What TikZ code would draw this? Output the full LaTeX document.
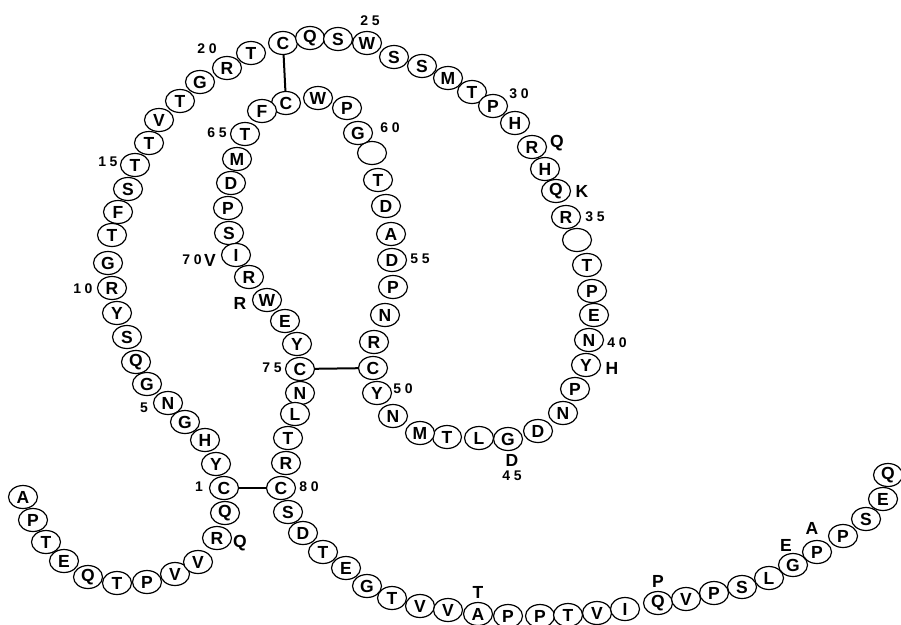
\documentclass[tikz,border=0pt]{standalone}
\usepackage{fontspec}
\setmainfont{Liberation Sans}
\usetikzlibrary{shapes.geometric}
\tikzset{
  res/.style={ellipse, draw, fill=white, line width=1.2pt, minimum width=29pt, minimum height=23pt, inner sep=0pt, font=\fontsize{17.5}{17.5}\selectfont\bfseries},
  num/.style={inner sep=0pt, font=\fontsize{14}{14}\selectfont\bfseries},
  var/.style={inner sep=0pt, font=\fontsize{17.5}{17.5}\selectfont\bfseries},
  bond/.style={line width=2pt}
}
\newcommand{\dg}[2]{#1\hspace{3.5pt}#2}
\begin{document}
\begin{tikzpicture}[x=1pt,y=-1pt]
\useasboundingbox (0,0) rectangle (901,624);
\clip (0,0) rectangle (901,624);
\foreach \px/\py/\t [count=\i] in {
23/497/A, 33/520/P, 46/542/T, 64/561/E, 88/577/Q, 117/583/T, 147/582/P, 175/574/V, 198/562/V, 217/538/R, 225/513/Q,
224/488/C, 216/464/Y, 205/440/H, 185/422/G, 168/403/N, 147/384/G, 136/362/Q, 127/337/S, 117/313/Y, 112/288/R,
108/263/G, 112/235/T, 118/212/F, 128/189/S, 135/165/T, 149/143/T, 159/120/V, 180/101/T, 200/82/G, 227/68/R,
251/53/T, 283/43/C, 310/38/Q, 338/39/S, 367/43/W, 394/57/S, 422/66/S, 448/78/M, 472/92/T, 493/106/P,
515/123/H, 532/147/R, 545/169/H, 556/191/Q, 566/217/R, 577/240/{}, 587/265/T, 592/291/P, 594/315/E, 589/340/N,
586/365/Y, 575/389/P, 563/413/N, 538/431/D, 508/439/G, 479/438/L, 447/437/T, 420/433/M, 393/416/N, 377/393/Y,
373/368/C, 374/342/R, 385/315/N, 393/287/P, 392/260/D, 391/234/A, 386/206/D, 378/180/T, 372/153/{}, 358/133/G,
347/108/P, 318/98/W, 286/103/C, 262/111/F, 245/134/T, 237/159/M, 231/183/D, 228/208/P, 229/233/S, 236/255/I,
249/277/R, 267/300/W, 285/321/E, 297/344/Y, 300/369/C, 300/393/N, 295/414/L, 288/438/T, 286/463/R, 281/488/C,
288/512/S, 303/533/D, 323/552/T, 346/568/E, 367/586/G, 392/598/T, 420/606/V, 448/610/V, 478/614/A, 508/616/P,
540/616/P, 568/615/T, 597/613/V, 625/609/I, 658/603/Q, 686/599/V, 714/593/P, 742/587/S, 769/578/L, 793/565/G,
817/552/P, 843/536/P, 866/519/S, 883/499/E, 888/475/Q}
  \node[res] (n\i) at (\px,\py) {\t};
% disulfide bonds
\draw[bond] (n33) -- (n74);
\draw[bond] (n12) -- (n91);
\draw[bond] (n86) -- (n62);
% residue numbers
\node[num] (l1)  at (199,487) {1};
\node[num] (l5)  at (144,408) {5};
\node[num] (l10) at (83,289)  {\dg10};
\node[num] (l15) at (108,162) {\dg15};
\node[num] (l20) at (207,49)  {\dg20};
\node[num] (l25) at (370,21)  {\dg25};
\node[num] (l30) at (519,94)  {\dg30};
\node[num] (l35) at (595,217) {\dg35};
\node[num] (l40) at (617,343) {\dg40};
\node[num] (l45) at (512,476) {\dg45};
\node[num] (l50) at (403,389) {\dg50};
\node[num] (l55) at (420,259) {\dg55};
\node[num] (l60) at (390,128) {\dg60};
\node[num] (l65) at (217,133) {\dg65};
\node[num] (l70) at (192,260) {\dg70};
\node[num] (l75) at (272,368) {\dg75};
\node[num] (l80) at (309,487) {\dg80};
% variant residues
\node[var] (vQ1) at (557,143) {Q};
\node[var] (vK)  at (582,191) {K};
\node[var] (vH)  at (612,368) {H};
\node[var] (vD)  at (512,460) {D};
\node[var] (vV)  at (210,260) {V};
\node[var] (vR)  at (240,303) {R};
\node[var] (vQ2) at (240,543) {Q};
\node[var] (vT)  at (478,592) {T};
\node[var] (vP)  at (658,581) {P};
\node[var] (vE)  at (786,545) {E};
\node[var] (vA)  at (812,528) {A};
\end{tikzpicture}
\end{document}
